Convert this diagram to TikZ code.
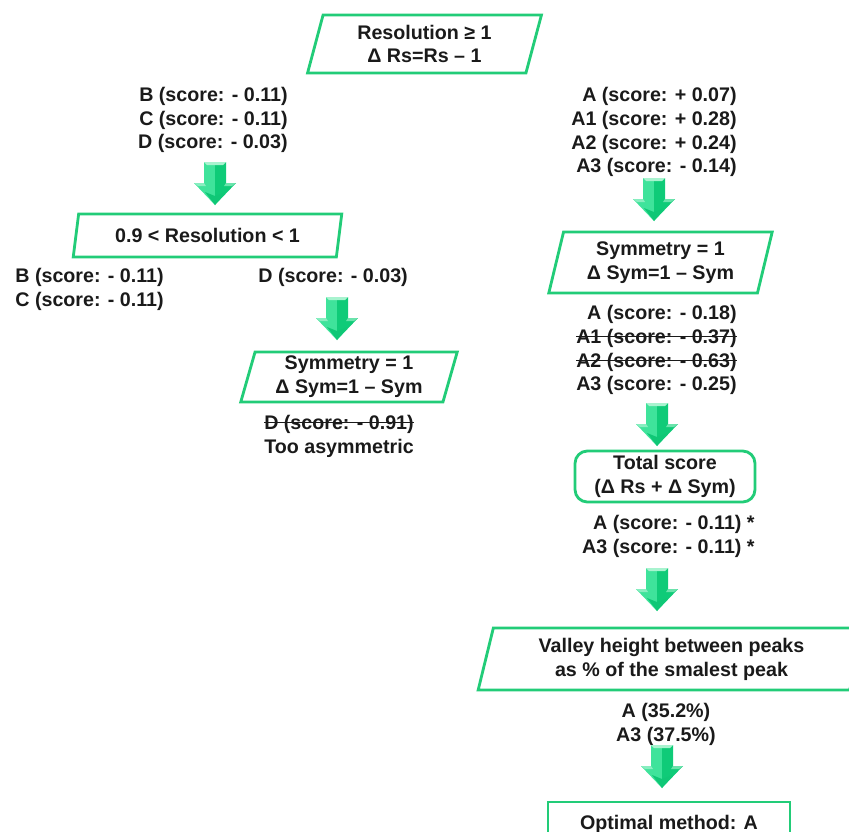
\documentclass[tikz,border=0pt]{standalone}
\usepackage{fontspec}
\setmainfont{Liberation Sans}
\usetikzlibrary{shapes.geometric}
\definecolor{cLine}{HTML}{22CC78}
\definecolor{cArrowL}{HTML}{3FE39B}
\definecolor{cArrowD}{HTML}{0FCB78}
\definecolor{cArrowT}{HTML}{A8F3CF}
\definecolor{cText}{HTML}{1A1A1A}
% struck-out score line
\newsavebox\strkbox
\newcommand{\strk}[1]{\sbox\strkbox{#1}\rlap{\rule[0.3em]{\wd\strkbox}{0.55pt}}\usebox\strkbox}
\tikzset{
  txt/.style   = {font=\fontsize{11.2}{13.6}\selectfont\bfseries, text=cText, inner sep=0pt},
  para/.style  = {trapezium, trapezium left angle=75, trapezium right angle=105,
                  trapezium stretches=true, draw=cLine, line width=1.6pt, fill=white,
                  align=center, txt},
  rbox/.style  = {rectangle, rounded corners=7pt, draw=cLine, line width=1.6pt,
                  fill=white, align=center, txt},
  sbox/.style  = {rectangle, draw=cLine, line width=1.6pt, fill=white, align=center, txt},
  pics/downarrow/.style = {code={
    % bevelled block arrow, origin at top of the shaft
    \fill[cArrowL] (-11,0) -- (0,0) -- (0,43) -- (-21,21) -- (-11,21) -- cycle;
    \fill[cArrowD] (0,0) -- (11,0) -- (11,21) -- (21,21) -- (0,43) -- cycle;
    \fill[cArrowD!80!black!10!cArrowD] (-10,30) -- (0,43) -- (10,30) -- (0,34) -- cycle;
    \fill[cArrowT] (-11,0) -- (11,0) -- (8,3) -- (-8,3) -- cycle;
    \fill[cArrowT!70!cArrowL] (-21,21) -- (-11,21) -- (-9,24) -- (-17,24) -- cycle;
    \fill[cArrowT!60!cArrowD] (21,21) -- (11,21) -- (9,24) -- (17,24) -- cycle;
  }},
}

\begin{document}
\begin{tikzpicture}[x=0.02cm, y=-0.02cm]
  \useasboundingbox (0,0) rectangle (849,832);

  % first criterion
  \node[para, minimum width=4.7cm, minimum height=1.16cm] (res) at (424.5,44)
    {Resolution ≥ 1\\Δ Rs=Rs – 1};
  \node[txt, align=right, anchor=east] (bcd) at (288,120)
    {B (score: - 0.11)\\C (score: - 0.11)\\D (score: - 0.03)};
  \node[txt, align=right, anchor=east] (aset) at (737,132)
    {A (score: + 0.07)\\A1 (score: + 0.28)\\A2 (score: + 0.24)\\A3 (score: - 0.14)};

  % left branch
  \pic (ar1) at (215,162) {downarrow};
  \node[para, minimum width=5.38cm, minimum height=0.86cm] (low) at (207.5,235.5)
    {0.9 < Resolution < 1};
  \node[txt, align=left, anchor=west] (bc) at (15,289)
    {B (score: - 0.11)\\C (score: - 0.11)};
  \node[txt, anchor=west] (d) at (258,277) {D (score: - 0.03)};
  \pic (ar3) at (337,297) {downarrow};
  \node[para, minimum width=4.36cm, minimum height=1.0cm] (syml) at (349,377)
    {Symmetry = 1\\Δ Sym=1 – Sym};
  \node[txt, align=center] (dout) at (339,436)
    {\strk{D (score: - 0.91)}\\Too asymmetric};

  % right branch
  \pic (ar2) at (654,178) {downarrow};
  \node[para, minimum width=4.5cm, minimum height=1.22cm] (symr) at (660.5,262.5)
    {Symmetry = 1\\Δ Sym=1 – Sym};
  \node[txt, align=right, anchor=east] (asym) at (737,350)
    {A (score: - 0.18)\\\strk{A1 (score: - 0.37)}\\\strk{A2 (score: - 0.63)}\\A3 (score: - 0.25)};
  \pic (ar4) at (657,403) {downarrow};
  \node[rbox, minimum width=3.6cm, minimum height=1.02cm] (tot) at (665,476.5)
    {Total score\\(Δ Rs + Δ Sym)};
  \node[txt, align=right, anchor=east] (atot) at (755,536)
    {A (score: - 0.11) *\\A3 (score: - 0.11) *};
  \pic (ar5) at (657,568) {downarrow};
  \node[para, minimum width=7.74cm, minimum height=1.24cm] (val) at (671.5,659)
    {Valley height between peaks\\as \% of the smalest peak};
  \node[txt, align=center] (pct) at (666,724) {A (35.2\%)\\A3 (37.5\%)};
  \pic (ar6) at (662,745) {downarrow};
  \node[sbox, minimum width=4.84cm, minimum height=0.88cm] (opt) at (669,824)
    {Optimal method: A};
\end{tikzpicture}
\end{document}
